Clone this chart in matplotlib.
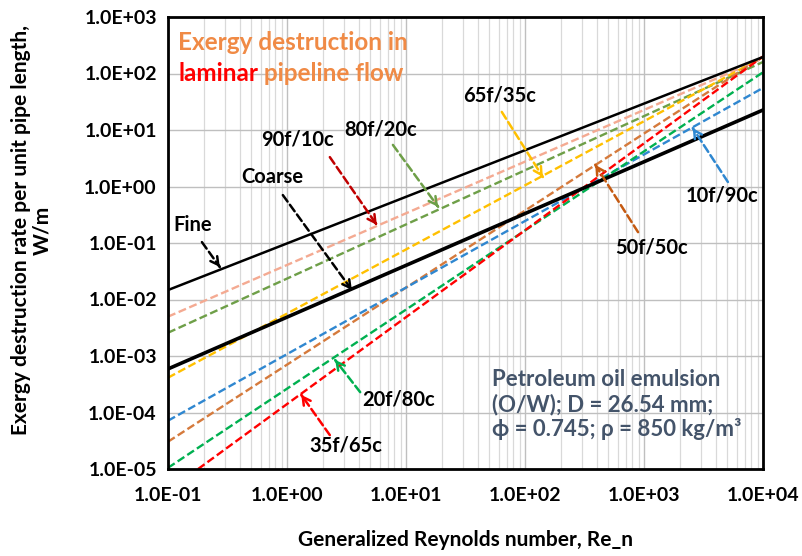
import numpy as np
import matplotlib.pyplot as plt
from matplotlib.ticker import FixedLocator, LogLocator, NullFormatter

plt.rcParams['font.family'] = ['Lato', 'DejaVu Sans']
plt.rcParams['font.weight'] = 'bold'

# Straight lines on log-log axes: end points
x_ends = [0.1, 1.0e4]
fine_y = [0.0147, 196]
coarse_y = [5.9e-4, 22.6]

series_names = ['90f/10c', '80f/20c', '65f/35c', '50f/50c', '10f/90c', '20f/80c', '35f/65c']
series_x = [x_ends, x_ends, x_ends, x_ends, x_ends, x_ends, [0.179, 1.0e4]]
series_y = [
    [4.97e-3, 186],
    [2.58e-3, 160],
    [4.13e-4, 195],
    [3.04e-5, 200],
    [7.16e-5, 55.6],
    [1.05e-5, 105],
    [1.0e-5, 200],
]
series_colors = ['#F4AA92', '#6E9F48', '#FFC000', '#D57A3C', '#2F87D0', '#00B050', '#FF0000']

x_ticks = [1e-1, 1e0, 1e1, 1e2, 1e3, 1e4]
y_ticks = [1e-5, 1e-4, 1e-3, 1e-2, 1e-1, 1e0, 1e1, 1e2, 1e3]

fig = plt.figure(figsize=(8.03, 5.56), dpi=100)
ax = fig.add_axes([168 / 803, 1 - 469 / 556, 595 / 803, 452 / 556])

ax.set_xscale('log')
ax.set_yscale('log')
ax.set_xlim(1e-1, 1e4)
ax.set_ylim(1e-5, 1e3)

# grid: vertical major + minor, horizontal major only
ax.xaxis.set_major_locator(FixedLocator(x_ticks))
ax.xaxis.set_minor_locator(LogLocator(base=10, subs=np.arange(2, 10)))
ax.xaxis.set_minor_formatter(NullFormatter())
ax.yaxis.set_major_locator(FixedLocator(y_ticks))
ax.yaxis.set_minor_locator(FixedLocator([]))
ax.grid(True, which='major', color='#BFBFBF', linewidth=1.0)
ax.grid(True, which='minor', axis='x', color='#D9D9D9', linewidth=0.9)
ax.set_axisbelow(True)

ax.set_xticklabels([f'{v:.1E}' for v in x_ticks], fontsize=14, fontweight='bold')
ax.set_yticklabels([f'{v:.1E}' for v in y_ticks], fontsize=14, fontweight='bold')
ax.tick_params(which='both', length=0)
ax.tick_params(axis='x', pad=13)
ax.tick_params(axis='y', pad=8)

for sp in ax.spines.values():
    sp.set_linewidth(2.0)
    sp.set_color('black')

# colored dashed lines
for xs, ys, c in zip(series_x, series_y, series_colors):
    ax.plot(xs, ys, color=c, linewidth=1.7, dashes=(3.4, 1.5))

ax.plot(x_ends, fine_y, color='black', linewidth=1.8)
ax.plot(x_ends, coarse_y, color='black', linewidth=2.6)


def label_arrow(text, txy, tail, head, color):
    ax.text(txy[0], txy[1], text, transform=ax.transAxes, ha='center', va='center',
            fontsize=14.5, fontweight='bold', color='black')
    ax.annotate('', xy=head, xytext=tail, xycoords='axes fraction', textcoords='axes fraction',
                arrowprops=dict(arrowstyle='-', color=color, lw=1.8, linestyle=(0, (3.2, 1.6)),
                                shrinkA=0, shrinkB=0))
    dx = head[0] - tail[0]
    dy = head[1] - tail[1]
    ax.annotate('', xy=head, xytext=(head[0] - 0.02 * dx, head[1] - 0.02 * dy),
                xycoords='axes fraction', textcoords='axes fraction',
                arrowprops=dict(arrowstyle='->,head_length=0.55,head_width=0.3', color=color,
                                lw=1.8, shrinkA=0, shrinkB=0))


label_arrow('Fine', (0.042, 0.540), (0.057, 0.502), (0.087, 0.447), 'black')
label_arrow('Coarse', (0.175, 0.646), (0.193, 0.606), (0.309, 0.396), 'black')
label_arrow('90f/10c', (0.217, 0.728), (0.272, 0.690), (0.351, 0.540), '#C00000')
label_arrow('80f/20c', (0.358, 0.750), (0.378, 0.717), (0.454, 0.580), '#6E9F48')
label_arrow('65f/35c', (0.558, 0.827), (0.561, 0.790), (0.630, 0.646), '#FFC000')
label_arrow('50f/50c', (0.812, 0.489), (0.790, 0.524), (0.718, 0.673), '#C55A11')
label_arrow('10f/90c', (0.931, 0.606), (0.941, 0.635), (0.882, 0.754), '#2F87D0')
label_arrow('20f/80c', (0.388, 0.153), (0.323, 0.170), (0.281, 0.241), '#00B050')
label_arrow('35f/65c', (0.299, 0.053), (0.272, 0.075), (0.224, 0.164), '#FF0000')

# title inside the plot
orange = '#F08A45'
ax.text(0.017, 0.968, 'Exergy destruction in', transform=ax.transAxes, ha='left', va='top',
        fontsize=17.5, fontweight='bold', color=orange)
t = ax.text(0.017, 0.900, 'laminar', transform=ax.transAxes, ha='left', va='top',
            fontsize=17.5, fontweight='bold', color='#FF0000')
ax.annotate(' pipeline flow', xy=(1, 0), xycoords=t, ha='left', va='bottom',
            fontsize=17.5, fontweight='bold', color=orange)

ax.text(0.545, 0.222, 'Petroleum oil emulsion\n(O/W); D = 26.54 mm;\nϕ = 0.745; ρ = 850 kg/m³',
        transform=ax.transAxes, ha='left', va='top', fontsize=16, fontweight='bold',
        color='#44546A', linespacing=1.2)

fig.text(0.5 * (168 + 763) / 803, 1 - 540 / 556, 'Generalized Reynolds number, Re_n',
         ha='center', va='center', fontsize=15, fontweight='bold')
fig.text(32 / 803, 1 - 230 / 556, 'Exergy destruction rate per unit pipe length,\nW/m',
         ha='center', va='center', rotation=90, fontsize=15, fontweight='bold',
         multialignment='center', linespacing=1.1)

fig.savefig('out.png', dpi=100)
